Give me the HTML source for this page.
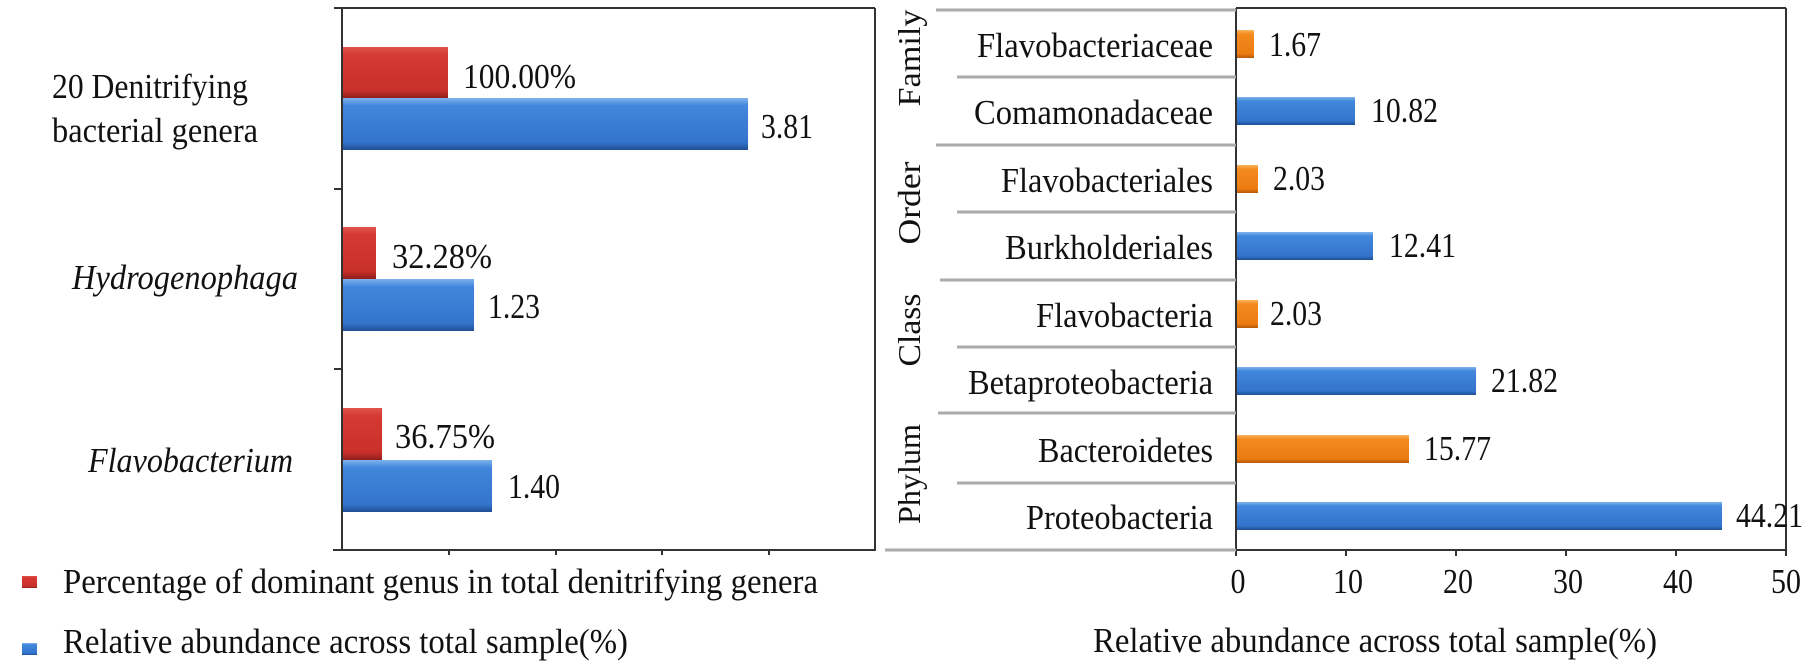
<!DOCTYPE html>
<html><head><meta charset="utf-8"><style>
html,body{margin:0;padding:0;background:#fff;}
svg{display:block;}
text{font-family:"Liberation Serif",serif;font-size:35px;fill:#111;}
</style></head><body>
<svg width="1805" height="671" viewBox="0 0 1805 671" xmlns="http://www.w3.org/2000/svg">
<defs>
<linearGradient id="gr" x1="0" y1="0" x2="0" y2="1"><stop offset="0" stop-color="#e0554c"/><stop offset="0.15" stop-color="#d63a32"/><stop offset="0.85" stop-color="#c9302a"/><stop offset="1" stop-color="#8e1f1b"/></linearGradient>
<linearGradient id="gb" x1="0" y1="0" x2="0" y2="1"><stop offset="0" stop-color="#7fb3ec"/><stop offset="0.15" stop-color="#4187dc"/><stop offset="0.85" stop-color="#3474cc"/><stop offset="1" stop-color="#1e4f93"/></linearGradient>
<linearGradient id="go" x1="0" y1="0" x2="0" y2="1"><stop offset="0" stop-color="#fbb45f"/><stop offset="0.15" stop-color="#f48a1e"/><stop offset="0.85" stop-color="#ec7c12"/><stop offset="1" stop-color="#b65a08"/></linearGradient>
</defs>

<line x1="342" y1="8" x2="875" y2="8" stroke="#333" stroke-width="2"/>
<line x1="875" y1="8" x2="875" y2="551" stroke="#333" stroke-width="2"/>
<line x1="342" y1="8" x2="342" y2="551" stroke="#333" stroke-width="2"/>
<line x1="333" y1="550" x2="875" y2="550" stroke="#333" stroke-width="2"/>
<g stroke="#333" stroke-width="2">
<line x1="334" y1="8" x2="342" y2="8"/><line x1="334" y1="189" x2="342" y2="189"/><line x1="334" y1="369" x2="342" y2="369"/><line x1="334" y1="550" x2="342" y2="550"/>
<line x1="449" y1="550" x2="449" y2="555"/><line x1="556" y1="550" x2="556" y2="555"/><line x1="662" y1="550" x2="662" y2="555"/><line x1="769" y1="550" x2="769" y2="555"/>
</g>
<rect x="343" y="47" width="105" height="51" fill="url(#gr)"/>
<rect x="343" y="98" width="405" height="52" fill="url(#gb)"/>
<rect x="343" y="227" width="33" height="52" fill="url(#gr)"/>
<rect x="343" y="279" width="131" height="52" fill="url(#gb)"/>
<rect x="343" y="408" width="39" height="52" fill="url(#gr)"/>
<rect x="343" y="460" width="149" height="52" fill="url(#gb)"/>

<text x="463" y="88" textLength="113" lengthAdjust="spacingAndGlyphs">100.00%</text>
<text x="761" y="138" textLength="52" lengthAdjust="spacingAndGlyphs">3.81</text>
<text x="392" y="268" textLength="100" lengthAdjust="spacingAndGlyphs">32.28%</text>
<text x="488" y="318" textLength="52" lengthAdjust="spacingAndGlyphs">1.23</text>
<text x="395" y="448" textLength="100" lengthAdjust="spacingAndGlyphs">36.75%</text>
<text x="508" y="498" textLength="52" lengthAdjust="spacingAndGlyphs">1.40</text>

<text x="52" y="98" textLength="196" lengthAdjust="spacingAndGlyphs">20 Denitrifying</text>
<text x="52" y="142" textLength="206" lengthAdjust="spacingAndGlyphs">bacterial genera</text>
<text x="72" y="289" font-style="italic" textLength="226" lengthAdjust="spacingAndGlyphs">Hydrogenophaga</text>
<text x="88" y="472" font-style="italic" textLength="205" lengthAdjust="spacingAndGlyphs">Flavobacterium</text>

<rect x="22" y="576" width="15" height="12" fill="url(#gr)"/>
<text x="63" y="593" textLength="755" lengthAdjust="spacingAndGlyphs">Percentage of dominant genus in total denitrifying genera</text>
<rect x="22" y="643" width="15" height="12" fill="url(#gb)"/>
<text x="63" y="653" textLength="565" lengthAdjust="spacingAndGlyphs">Relative abundance across total sample(%)</text>

<line x1="1236" y1="8" x2="1786" y2="8" stroke="#333" stroke-width="2"/>
<line x1="1786" y1="8" x2="1786" y2="551" stroke="#333" stroke-width="2"/>
<line x1="1236" y1="8" x2="1236" y2="556" stroke="#333" stroke-width="2"/>
<line x1="1236" y1="550" x2="1786" y2="550" stroke="#333" stroke-width="2"/>
<g stroke="#333" stroke-width="2">
<line x1="1346" y1="550" x2="1346" y2="556"/><line x1="1456" y1="550" x2="1456" y2="556"/><line x1="1566" y1="550" x2="1566" y2="556"/><line x1="1676" y1="550" x2="1676" y2="556"/><line x1="1786" y1="550" x2="1786" y2="556"/>
</g>
<g stroke="#aaa" stroke-width="3">
<line x1="936" y1="10" x2="1236" y2="10"/>
<line x1="957" y1="77" x2="1236" y2="77"/>
<line x1="936" y1="145" x2="1236" y2="145"/>
<line x1="957" y1="212" x2="1236" y2="212"/>
<line x1="940" y1="280" x2="1236" y2="280"/>
<line x1="957" y1="347" x2="1236" y2="347"/>
<line x1="938" y1="413" x2="1236" y2="413"/>
<line x1="957" y1="483" x2="1236" y2="483"/>
<line x1="885" y1="550" x2="1236" y2="550"/>
</g>

<rect x="1237" y="30" width="17" height="28" fill="url(#go)"/>
<rect x="1237" y="97" width="118" height="28" fill="url(#gb)"/>
<rect x="1237" y="165" width="21" height="28" fill="url(#go)"/>
<rect x="1237" y="232" width="136" height="28" fill="url(#gb)"/>
<rect x="1237" y="300" width="21" height="28" fill="url(#go)"/>
<rect x="1237" y="367" width="239" height="28" fill="url(#gb)"/>
<rect x="1237" y="435" width="172" height="28" fill="url(#go)"/>
<rect x="1237" y="502" width="485" height="28" fill="url(#gb)"/>

<text x="1269" y="56" textLength="52" lengthAdjust="spacingAndGlyphs">1.67</text>
<text x="1371" y="122" textLength="67" lengthAdjust="spacingAndGlyphs">10.82</text>
<text x="1273" y="190" textLength="52" lengthAdjust="spacingAndGlyphs">2.03</text>
<text x="1389" y="257" textLength="67" lengthAdjust="spacingAndGlyphs">12.41</text>
<text x="1270" y="325" textLength="52" lengthAdjust="spacingAndGlyphs">2.03</text>
<text x="1491" y="392" textLength="67" lengthAdjust="spacingAndGlyphs">21.82</text>
<text x="1424" y="460" textLength="67" lengthAdjust="spacingAndGlyphs">15.77</text>
<text x="1736" y="527" textLength="67" lengthAdjust="spacingAndGlyphs">44.21</text>

<g text-anchor="end">
<text x="1213" y="57" textLength="236" lengthAdjust="spacingAndGlyphs">Flavobacteriaceae</text>
<text x="1213" y="124" textLength="239" lengthAdjust="spacingAndGlyphs">Comamonadaceae</text>
<text x="1213" y="192" textLength="212" lengthAdjust="spacingAndGlyphs">Flavobacteriales</text>
<text x="1213" y="259" textLength="208" lengthAdjust="spacingAndGlyphs">Burkholderiales</text>
<text x="1213" y="327" textLength="177" lengthAdjust="spacingAndGlyphs">Flavobacteria</text>
<text x="1213" y="394" textLength="245" lengthAdjust="spacingAndGlyphs">Betaproteobacteria</text>
<text x="1213" y="462" textLength="175" lengthAdjust="spacingAndGlyphs">Bacteroidetes</text>
<text x="1213" y="529" textLength="187" lengthAdjust="spacingAndGlyphs">Proteobacteria</text>
</g>

<g text-anchor="middle">
<text transform="translate(920,58) rotate(-90)" textLength="97" lengthAdjust="spacingAndGlyphs" style="font-size:32px">Family</text>
<text transform="translate(920,203) rotate(-90)" textLength="83" lengthAdjust="spacingAndGlyphs" style="font-size:32px">Order</text>
<text transform="translate(920,330) rotate(-90)" textLength="73" lengthAdjust="spacingAndGlyphs" style="font-size:32px">Class</text>
<text transform="translate(920,474) rotate(-90)" textLength="100" lengthAdjust="spacingAndGlyphs" style="font-size:32px">Phylum</text>
<text x="1238" y="593" textLength="15" lengthAdjust="spacingAndGlyphs">0</text>
<text x="1348" y="593" textLength="30" lengthAdjust="spacingAndGlyphs">10</text>
<text x="1458" y="593" textLength="30" lengthAdjust="spacingAndGlyphs">20</text>
<text x="1568" y="593" textLength="30" lengthAdjust="spacingAndGlyphs">30</text>
<text x="1678" y="593" textLength="30" lengthAdjust="spacingAndGlyphs">40</text>
<text x="1786" y="593" textLength="30" lengthAdjust="spacingAndGlyphs">50</text>
</g>
<text x="1093" y="652" textLength="564" lengthAdjust="spacingAndGlyphs">Relative abundance across total sample(%)</text>
</svg>
</body></html>
